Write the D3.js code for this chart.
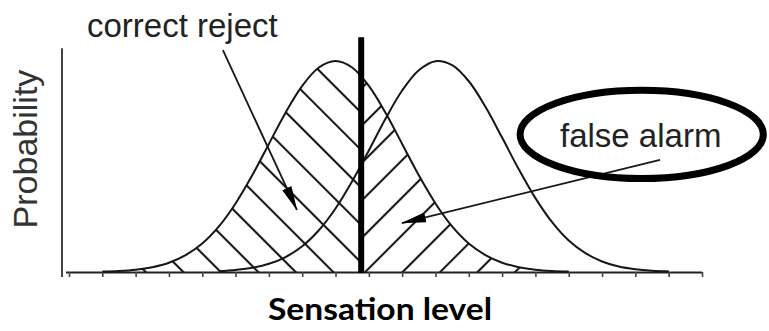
<!DOCTYPE html>
<html>
<head>
<meta charset="utf-8">
<script src="https://cdn.jsdelivr.net/npm/d3@7"></script>
<style>
  html, body { margin: 0; padding: 0; background: #fff; }
  svg { display: block; }
</style>
</head>
<body>
<svg id="chart" width="769" height="331"></svg>
<script>
// ---- data ----
const tickLevels = [0,1,2,3,4,5,6,7,8,9,10,11,12,13,14,15,16,17,18,19];

const noiseX = [1,1.5,2,2.5,3,3.5,4,4.5,5,5.5,6,6.5,7,7.5,8,8.5,9,9.5,10,10.5,11,11.5,12,12.5,13,13.5,14,14.5,15];
const noiseY = [0.002,0.005,0.011,0.023,0.044,0.080,0.135,0.216,0.325,0.458,0.607,0.755,0.882,0.969,1.000,
                0.969,0.882,0.755,0.607,0.458,0.325,0.216,0.135,0.080,0.044,0.023,0.011,0.005,0.002];

const signalX = [4.5,5,5.5,6,6.5,7,7.5,8,8.5,9,9.5,10,10.5,11,11.5,12,12.5,13,13.5,14,14.5,15,15.5,16,16.5,17,17.5,18];
const signalY = [0.004,0.010,0.020,0.039,0.071,0.122,0.198,0.301,0.430,0.576,0.726,0.860,0.956,0.999,0.980,
                 0.904,0.783,0.637,0.487,0.350,0.236,0.149,0.089,0.050,0.026,0.013,0.006,0.003];

const criterion = 8.77;

const labelCorrectReject = "correct reject";
const labelFalseAlarm = "false alarm";
const labelY = "Probability";
const labelX = "Sensation level";

// annotation anchors, in data units (level, probability)
const crArrow = [[4.62, 1.052], [6.84, 0.294]];
const faArrow = [[17.74, 0.531], [9.995, 0.232]];
const faEllipse = { cx: 17.19, cy: 0.652, rx: 3.65, ry: 0.209 };

// ---- scales ----
const svg = d3.select("#chart");
const x = d3.scaleLinear().domain([0, 19]).range([69, 702]);
const y = d3.scaleLinear().domain([0, 1]).range([272, 61]);

const ink = "#161616";
const defs = svg.append("defs");

// hatch patterns
function hatch(id, angle, anchorX) {
  const s = 26.5;
  const w = 2.1;
  const p = defs.append("pattern")
    .attr("id", id)
    .attr("patternUnits", "userSpaceOnUse")
    .attr("width", s).attr("height", s)
    .attr("patternTransform", `translate(${anchorX},${y(0)}) rotate(${angle})`);
  p.append("rect").attr("x", -w / 2).attr("y", 0).attr("width", w).attr("height", s).attr("fill", ink);
  p.append("rect").attr("x", s - w / 2).attr("y", 0).attr("width", w).attr("height", s).attr("fill", ink);
}
hatch("hatchBack", -45, x(criterion) - 28);
hatch("hatchFwd", 45, x(criterion) + 4);

defs.append("clipPath").attr("id", "leftClip")
  .append("rect").attr("x", 0).attr("y", 0).attr("width", x(criterion)).attr("height", 331);
defs.append("clipPath").attr("id", "rightClip")
  .append("rect").attr("x", x(criterion)).attr("y", 0).attr("width", 769 - x(criterion)).attr("height", 331);

defs.append("marker")
  .attr("id", "arrow")
  .attr("markerUnits", "userSpaceOnUse")
  .attr("viewBox", "0 -6 25 12")
  .attr("markerWidth", 25).attr("markerHeight", 12)
  .attr("refX", 24).attr("refY", 0)
  .attr("orient", "auto")
  .append("path").attr("d", "M0,-5 L25,0 L0,5 Z").attr("fill", "#000");

const noise = noiseX.map((v, i) => [v, noiseY[i]]);
const signal = signalX.map((v, i) => [v, signalY[i]]);

const area = d3.area().x(d => x(d[0])).y0(y(0)).y1(d => y(d[1])).curve(d3.curveCatmullRom);
const line = d3.line().x(d => x(d[0])).y(d => y(d[1])).curve(d3.curveCatmullRom);

// hatched regions under the noise curve
svg.append("path").datum(noise).attr("d", area)
  .attr("fill", "url(#hatchBack)").attr("clip-path", "url(#leftClip)");
svg.append("path").datum(noise).attr("d", area)
  .attr("fill", "url(#hatchFwd)").attr("clip-path", "url(#rightClip)");

// x axis
const xAxis = d3.axisBottom(x).tickValues(tickLevels).tickSize(5).tickSizeOuter(0).tickFormat("");
const gx = svg.append("g").attr("transform", `translate(0,${y(0)})`).call(xAxis);
gx.select(".domain").attr("d", `M${x(0) - 3},0.5H${x(19)}`).attr("stroke", "#222").attr("stroke-width", 2);
gx.selectAll(".tick line").attr("stroke", "#444").attr("stroke-width", 1.6);

// y axis (plain line)
svg.append("line")
  .attr("x1", 62).attr("x2", 62)
  .attr("y1", y(1.06)).attr("y2", y(0) + 5)
  .attr("stroke", "#444").attr("stroke-width", 2);

// curves
svg.append("path").datum(noise).attr("d", line)
  .attr("fill", "none").attr("stroke", ink).attr("stroke-width", 2);
svg.append("path").datum(signal).attr("d", line)
  .attr("fill", "none").attr("stroke", ink).attr("stroke-width", 2);

// criterion
svg.append("line")
  .attr("x1", x(criterion)).attr("x2", x(criterion))
  .attr("y1", y(1.113)).attr("y2", y(0) + 1)
  .attr("stroke", "#000").attr("stroke-width", 6);

// arrows
function arrow(pts) {
  svg.append("line")
    .attr("x1", x(pts[0][0])).attr("y1", y(pts[0][1]))
    .attr("x2", x(pts[1][0])).attr("y2", y(pts[1][1]))
    .attr("stroke", ink).attr("stroke-width", 1.8)
    .attr("marker-end", "url(#arrow)");
}
arrow(crArrow);
arrow(faArrow);

// ellipse
svg.append("ellipse")
  .attr("cx", x(faEllipse.cx)).attr("cy", y(faEllipse.cy))
  .attr("rx", x(faEllipse.rx) - x(0)).attr("ry", y(0) - y(faEllipse.ry))
  .attr("fill", "none").attr("stroke", "#000").attr("stroke-width", 7);

// text
const sans = "'Liberation Sans', Arial, Helvetica, sans-serif";
svg.append("text").attr("x", 87).attr("y", 37)
  .attr("font-family", sans).attr("font-size", 33).attr("fill", "#222")
  .text(labelCorrectReject);
svg.append("text").attr("x", 560).attr("y", 147)
  .attr("font-family", sans).attr("font-size", 33).attr("fill", "#222")
  .text(labelFalseAlarm);
svg.append("text")
  .attr("transform", "translate(37,149) rotate(-90)")
  .attr("text-anchor", "middle")
  .attr("font-family", sans).attr("font-size", 34).attr("fill", "#333")
  .text(labelY);
svg.append("text").attr("x", 380).attr("y", 320)
  .attr("text-anchor", "middle")
  .attr("font-family", "Lato, 'Open Sans', sans-serif").attr("font-weight", "bold")
  .attr("font-size", 31).attr("fill", "#000")
  .attr("textLength", 224).attr("lengthAdjust", "spacingAndGlyphs")
  .text(labelX);
</script>
</body>
</html>
